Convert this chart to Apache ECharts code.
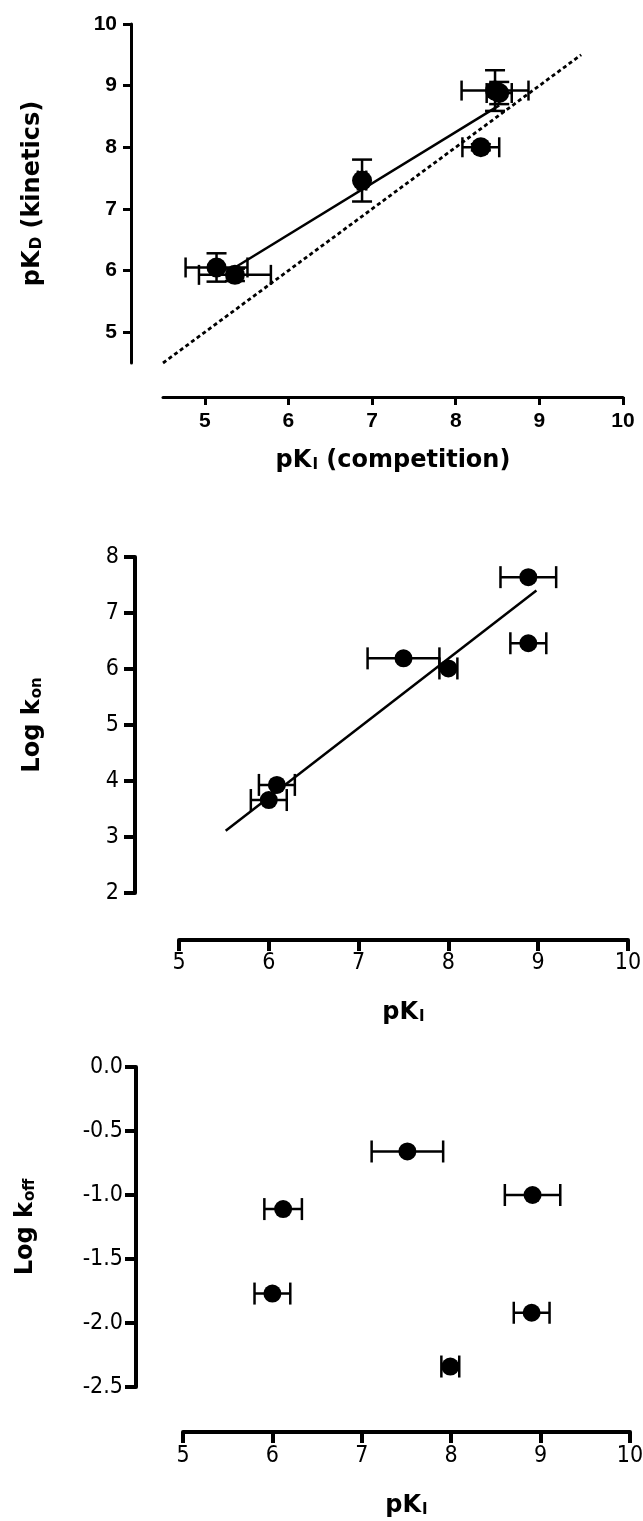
<!DOCTYPE html>
<html><head><meta charset="utf-8">
<script src="https://cdn.jsdelivr.net/npm/echarts@6/dist/echarts.min.js"></script>
<style>html,body{margin:0;padding:0;background:#fff}#c{width:643px;height:1521px}</style>
</head><body><div id="c"></div>
<script>
// ---- Panel A: pKD (kinetics) vs pKI (competition) ----
const aPKi     = [5.14, 5.36, 6.88, 8.30, 8.47, 8.52];
const aPKiErr  = [0.37, 0.43, 0.05, 0.22, 0.40, 0.15];
const aPKd     = [6.05, 5.93, 7.46, 8.00, 8.92, 8.88];
const aPKdErr  = [0.23, 0.10, 0.34, 0.05, 0.33, 0.18];
const aFitX    = [5.36, 8.52];
const aFitY    = [6.05, 8.68];
const aIdentX  = [4.5, 9.5];
const aTicks   = [5, 6, 7, 8, 9, 10];

// ---- Panel B: Log kon vs pKI ----
const bPKi     = [6.09, 6.00, 7.50, 8.00, 8.89, 8.89];
const bPKiErr  = [0.20, 0.20, 0.40, 0.10, 0.31, 0.20];
const bLogKon  = [3.93, 3.66, 6.19, 6.01, 7.64, 6.46];
const bFitX    = [5.52, 8.98];
const bFitY    = [3.11, 7.40];

// ---- Panel C: Log koff vs pKI ----
const cPKi     = [6.12, 6.00, 7.51, 7.99, 8.91, 8.90];
const cPKiErr  = [0.21, 0.20, 0.40, 0.10, 0.31, 0.20];
const cLogKoff = [-1.11, -1.77, -0.66, -2.34, -1.00, -1.92];

const chart = echarts.init(document.getElementById('c'), null, {renderer: 'canvas'});

const titleFont = 'DejaVu Sans';
const narrow = '"Liberation Sans Narrow", "Arial Narrow", "DejaVu Sans Condensed", sans-serif';
const richName = {
  b: {fontFamily: titleFont, fontWeight: 'bold', fontSize: 24, color: '#000', lineHeight: 24},
  s: {fontFamily: titleFont, fontWeight: 'bold', fontSize: 15, color: '#000', lineHeight: 15, padding: [16, 0, 0, 1], verticalAlign: 'bottom'}
};

function zip(xs, ys, xe, ye) {
  return xs.map((x, i) => [x, ys[i], xe ? xe[i] : 0, ye ? ye[i] : 0]);
}

function errRender(cap, lw) {
  return function (params, api) {
    const x = api.value(0), y = api.value(1), xe = api.value(2), ye = api.value(3);
    const st = {stroke: '#000', lineWidth: lw, fill: null};
    const ch = [];
    if (xe > 0) {
      const l = api.coord([x - xe, y]), r = api.coord([x + xe, y]);
      ch.push({type: 'line', shape: {x1: l[0], y1: l[1], x2: r[0], y2: r[1]}, style: st});
      ch.push({type: 'line', shape: {x1: l[0], y1: l[1] - cap, x2: l[0], y2: l[1] + cap}, style: st});
      ch.push({type: 'line', shape: {x1: r[0], y1: r[1] - cap, x2: r[0], y2: r[1] + cap}, style: st});
    }
    if (ye > 0) {
      const t = api.coord([x, y + ye]), b = api.coord([x, y - ye]);
      ch.push({type: 'line', shape: {x1: t[0], y1: t[1], x2: b[0], y2: b[1]}, style: st});
      ch.push({type: 'line', shape: {x1: t[0] - cap, y1: t[1], x2: t[0] + cap, y2: t[1]}, style: st});
      ch.push({type: 'line', shape: {x1: b[0] - cap, y1: b[1], x2: b[0] + cap, y2: b[1]}, style: st});
    }
    return {type: 'group', children: ch};
  };
}

function axisCommon(lw, tickLen, labelStyle, margin) {
  return {
    splitLine: {show: false},
    axisLine: {show: true, onZero: false, lineStyle: {color: '#000', width: lw}},
    axisTick: {show: true, inside: false, length: tickLen, lineStyle: {color: '#000', width: lw}},
    axisLabel: Object.assign({color: '#000', margin: margin, hideOverlap: false}, labelStyle)
  };
}

const topLabel = {fontFamily: '"Liberation Sans", Arial, sans-serif', fontWeight: 'bold', fontSize: 21};
const narrowLabel = {fontFamily: narrow, fontWeight: 'normal', fontSize: 23};

const option = {
  animation: false,
  backgroundColor: '#fff',
  grid: [
    {left: 163, top: 24, width: 460, height: 339, outerBoundsMode: 'none', containLabel: false},
    {left: 179, top: 557, width: 449, height: 336, outerBoundsMode: 'none', containLabel: false},
    {left: 183, top: 1067, width: 447, height: 320, outerBoundsMode: 'none', containLabel: false}
  ],
  xAxis: [
    Object.assign({type: 'value', gridIndex: 0, min: 4.5, max: 10, interval: 0.5, position: 'bottom', offset: 34,
      name: '{b|pK}{s|I}{b| (competition)}', nameLocation: 'middle', nameGap: 52, nameTextStyle: {rich: richName}},
      axisCommon(3, 8, topLabel, 14)),
    Object.assign({type: 'value', gridIndex: 1, min: 5, max: 10, interval: 1, position: 'bottom', offset: 47,
      name: '{b|pK}{s|I}', nameLocation: 'middle', nameGap: 61, nameTextStyle: {rich: richName}},
      axisCommon(4, 11, narrowLabel, 12)),
    Object.assign({type: 'value', gridIndex: 2, min: 5, max: 10, interval: 1, position: 'bottom', offset: 45,
      name: '{b|pK}{s|I}', nameLocation: 'middle', nameGap: 62, nameTextStyle: {rich: richName}},
      axisCommon(4, 11, narrowLabel, 13))
  ],
  yAxis: [
    Object.assign({type: 'value', gridIndex: 0, min: 4.5, max: 10, interval: 0.5, position: 'left', offset: 32,
      name: '{b|pK}{s|D}{b| (kinetics)}', nameLocation: 'middle', nameGap: 86, nameTextStyle: {rich: richName}},
      axisCommon(3, 8, topLabel, 14)),
    Object.assign({type: 'value', gridIndex: 1, min: 2, max: 8, interval: 1, position: 'left', offset: 44,
      name: '{b|Log k}{s|on}', nameLocation: 'middle', nameGap: 90, nameTextStyle: {rich: richName}},
      axisCommon(4, 11, narrowLabel, 16)),
    Object.assign({type: 'value', gridIndex: 2, min: -2.5, max: 0, interval: 0.5, position: 'left', offset: 47,
      name: '{b|Log k}{s|off}', nameLocation: 'middle', nameGap: 98, nameTextStyle: {rich: richName}},
      axisCommon(4, 11, narrowLabel, 13))
  ],
  series: []
};

// integer-only ticks on panel A
option.xAxis[0].axisTick.customValues = aTicks;
option.xAxis[0].axisLabel.customValues = aTicks;
option.yAxis[0].axisTick.customValues = aTicks;
option.yAxis[0].axisLabel.customValues = aTicks;
option.yAxis[2].axisLabel.formatter = v => v.toFixed(1);

const dot = {color: '#000', opacity: 1};

// Panel A series
option.series.push(
  {type: 'line', xAxisIndex: 0, yAxisIndex: 0, data: aIdentX.map(v => [v, v]), showSymbol: false, symbol: 'none',
    lineStyle: {color: '#000', width: 2.8, type: [4, 3]}, z: 2},
  {type: 'line', xAxisIndex: 0, yAxisIndex: 0, data: aFitX.map((v, i) => [v, aFitY[i]]), showSymbol: false, symbol: 'none',
    lineStyle: {color: '#000', width: 2.5}, z: 2},
  {type: 'custom', xAxisIndex: 0, yAxisIndex: 0, data: zip(aPKi, aPKd, aPKiErr, aPKdErr), renderItem: errRender(10, 2.5), z: 3},
  {type: 'scatter', xAxisIndex: 0, yAxisIndex: 0, data: aPKi.map((v, i) => [v, aPKd[i]]), symbol: 'circle', symbolSize: 20,
    itemStyle: dot, z: 4}
);
// Panel B series
option.series.push(
  {type: 'line', xAxisIndex: 1, yAxisIndex: 1, data: bFitX.map((v, i) => [v, bFitY[i]]), showSymbol: false, symbol: 'none',
    lineStyle: {color: '#000', width: 2.5}, z: 2},
  {type: 'custom', xAxisIndex: 1, yAxisIndex: 1, data: zip(bPKi, bLogKon, bPKiErr, null), renderItem: errRender(11, 2.5), z: 3},
  {type: 'scatter', xAxisIndex: 1, yAxisIndex: 1, data: bPKi.map((v, i) => [v, bLogKon[i]]), symbol: 'circle', symbolSize: 18,
    itemStyle: dot, z: 4}
);
// Panel C series
option.series.push(
  {type: 'custom', xAxisIndex: 2, yAxisIndex: 2, data: zip(cPKi, cLogKoff, cPKiErr, null), renderItem: errRender(11, 2.5), z: 3},
  {type: 'scatter', xAxisIndex: 2, yAxisIndex: 2, data: cPKi.map((v, i) => [v, cLogKoff[i]]), symbol: 'circle', symbolSize: 18,
    itemStyle: dot, z: 4}
);

chart.setOption(option);
</script>
</body></html>
